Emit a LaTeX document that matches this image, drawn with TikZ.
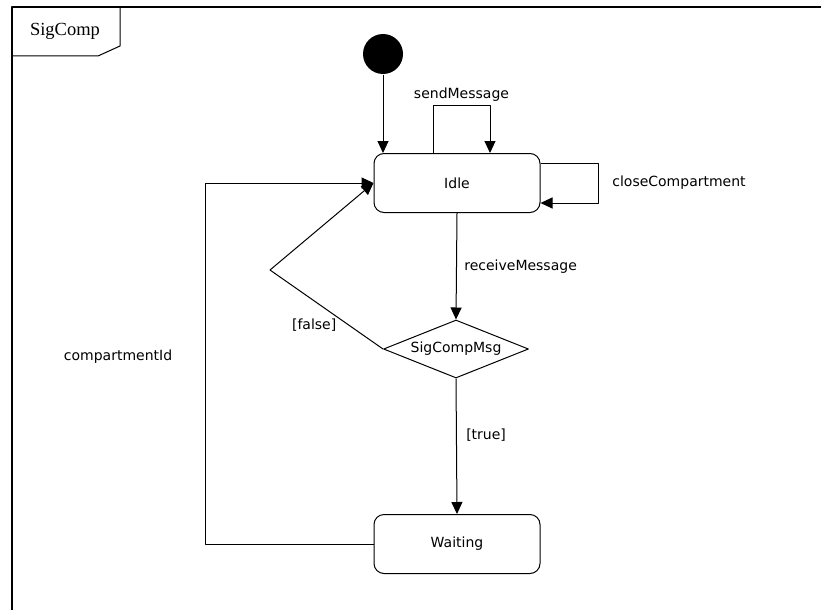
\documentclass[tikz,border=0pt]{standalone}
\usepackage{fontspec}
\usetikzlibrary{shapes.geometric,arrows.meta}
\newfontfamily\diafont{DejaVu Sans}
\newfontfamily\tabfont{Liberation Serif}
\begin{document}
\begin{tikzpicture}[x=1pt,y=-1pt,line join=round,line width=1pt,>={Triangle[length=12pt,width=11pt]}]
    \tikzset{state/.style={draw,rounded corners=10pt,minimum width=166pt,minimum height=59pt,font=\diafont\fontsize{14}{16}\selectfont},
        choice/.style={draw,diamond,aspect=2.5,inner sep=1pt,minimum width=145pt,minimum height=58pt,font=\diafont\fontsize{14}{16}\selectfont},
        lbl/.style={font=\diafont\fontsize{14}{16}\selectfont}}
    \useasboundingbox (0,0) rectangle (821,610);
    % frame
    \draw[line width=1.3pt] (12,610) -- (12,7) -- (821,7);
    \draw (12,56) -- (98,56) -- (120,46) -- (120,7);
    \node[font=\tabfont\fontsize{18.5}{20}\selectfont] (title) at (65,31) {SigComp};
    % states
    \node[circle,fill,minimum size=40pt,inner sep=0pt] (init) at (383,54) {};
    \node[state] (idle) at (457,183) {Idle};
    \node[choice] (msg) at (456,349) {SigCompMsg};
    \node[state] (wait) at (457,544) {Waiting};
    \coordinate (fbend) at (270,270);
    \coordinate (cleft) at (205,183);
    % transitions
    \draw[->] (init) -- (idle.north -| init);
    \draw[->] ([xshift=-24pt]idle.north) -- ++(0,-48) -| node[pos=0.25,above,lbl] {sendMessage} ([xshift=33pt]idle.north);
    \draw[->] ([yshift=20pt]idle.east) -- ++(58,0) |- node[pos=0.25,right=10pt,lbl] {closeCompartment} ([yshift=-20pt]idle.east);
    \draw[->] (idle.south) -- node[right=4pt,lbl] {receiveMessage} (msg.north);
    \draw[->] (msg.south) -- node[pos=0.42,right=6pt,lbl] {[true]} (wait.north);
    \draw[->] (msg.west) -- node[pos=0.4,anchor=north east,inner sep=1pt,lbl] {[false]} (fbend) -- (idle.west);
    \draw[->] (wait.west) -| node[pos=0.76,left=29pt,lbl] {compartmentId} (cleft) -- (idle.west);
\end{tikzpicture}
\end{document}
